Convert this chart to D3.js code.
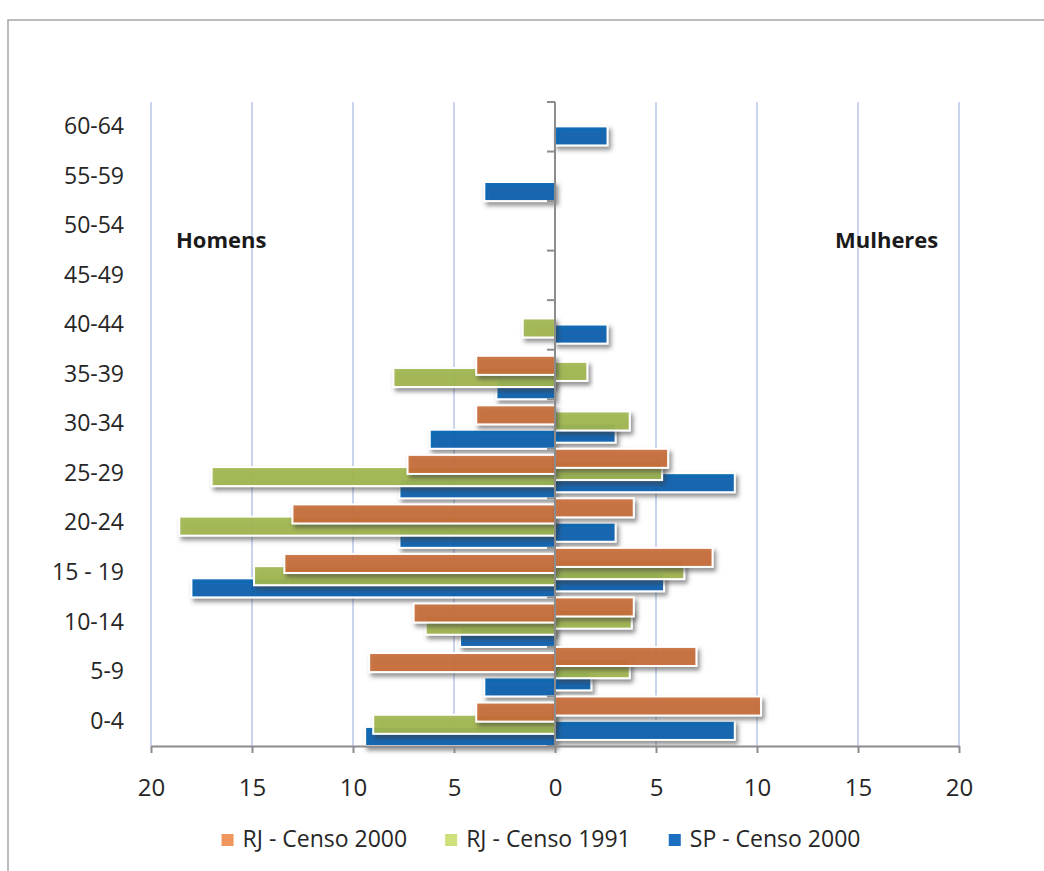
<!DOCTYPE html>
<html>
<head>
<meta charset="utf-8">
<script src="https://cdn.jsdelivr.net/npm/d3@7"></script>
<style>
  html, body { margin: 0; padding: 0; background: #fff; }
  svg { display: block; font-family: "Open Sans", "Noto Sans", sans-serif; }
</style>
</head>
<body>
<svg id="chart" width="1044" height="871"></svg>
<script>
// Age groups, bottom to top
const faixas = ["0-4", "5-9", "10-14", "15 - 19", "20-24", "25-29", "30-34", "35-39", "40-44", "45-49", "50-54", "55-59", "60-64"];

// Percentages per age group (men drawn to the left, women to the right)
const rj2000Homens   = [3.9, 9.2, 7.0, 13.4, 13.0, 7.3, 3.9, 3.9, 0, 0, 0, 0, 0];
const rj1991Homens   = [9.0, 0, 6.4, 14.9, 18.6, 17.0, 0, 8.0, 1.6, 0, 0, 0, 0];
const sp2000Homens   = [9.4, 3.5, 4.7, 18.0, 7.7, 7.7, 6.2, 2.9, 0, 0, 0, 3.5, 0];

const rj2000Mulheres = [10.2, 7.0, 3.9, 7.8, 3.9, 5.6, 0, 0, 0, 0, 0, 0, 0];
const rj1991Mulheres = [0, 3.7, 3.8, 6.4, 0, 5.3, 3.7, 1.6, 0, 0, 0, 0, 0];
const sp2000Mulheres = [8.9, 1.8, 0, 5.4, 3.0, 8.9, 3.0, 0, 2.6, 0, 0, 0, 2.6];

const seriesNomes = ["RJ - Censo 2000", "RJ - Censo 1991", "SP - Censo 2000"];
const xTicks = [-20, -15, -10, -5, 0, 5, 10, 15, 20];

const barColors    = ["#C96E3A", "#A2B851", "#0060B0"];
const legendColors = ["#F0955B", "#CDE07A", "#1B70C0"];

const svg = d3.select("#chart");

// Outer chart frame
svg.append("rect")
  .attr("x", 8).attr("y", 20)
  .attr("width", 1200).attr("height", 1000)
  .attr("fill", "#fff")
  .attr("stroke", "#a6a6a6").attr("stroke-width", 1.5);

const x = d3.scaleLinear().domain([-20, 20]).range([151, 959]);
const y = d3.scaleBand().domain(faixas.slice().reverse()).range([102, 746]).padding(0);

const barH = y.bandwidth() * 0.385;
// Six stacked slots per band: women/men interleaved for each census series
const slot = d3.scaleLinear().domain([0, 5]).range([0, y.bandwidth() - barH]);

// Drop shadow for the bars
const defs = svg.append("defs");
const f = defs.append("filter").attr("id", "sombra")
  .attr("x", "-10%").attr("y", "-30%").attr("width", "130%").attr("height", "180%");
f.append("feDropShadow")
  .attr("dx", 2.5).attr("dy", 3.5).attr("stdDeviation", 2.2)
  .attr("flood-color", "#3a3a3a").attr("flood-opacity", 0.6);

// Vertical gridlines
svg.append("g").selectAll("line")
  .data(xTicks.filter(d => d !== 0))
  .join("line")
  .attr("x1", d => x(d)).attr("x2", d => x(d))
  .attr("y1", y.range()[0]).attr("y2", y.range()[1])
  .attr("stroke", "#c9d5ee").attr("stroke-width", 2);

// Bar layers, drawn from the lowest slot up so the upper bars sit on top
const camadas = [
  { serie: 2, lado: -1, valores: sp2000Homens,   slot: 5 },
  { serie: 2, lado:  1, valores: sp2000Mulheres, slot: 4 },
  { serie: 1, lado: -1, valores: rj1991Homens,   slot: 3 },
  { serie: 1, lado:  1, valores: rj1991Mulheres, slot: 2 },
  { serie: 0, lado: -1, valores: rj2000Homens,   slot: 1 },
  { serie: 0, lado:  1, valores: rj2000Mulheres, slot: 0 }
];

const barras = svg.append("g");
camadas.forEach(c => {
  const dados = faixas.map((fx, i) => ({ faixa: fx, v: c.valores[i] })).filter(d => d.v > 0);
  barras.append("g")
    .selectAll("rect")
    .data(dados)
    .join("rect")
    .attr("x", d => c.lado < 0 ? x(-d.v) : x(0))
    .attr("width", d => Math.abs(x(d.v) - x(0)))
    .attr("y", d => y(d.faixa) + slot(c.slot))
    .attr("height", barH)
    .attr("fill", barColors[c.serie])
    .attr("fill-opacity", 0.9)
    .attr("stroke", "#fff").attr("stroke-width", 2)
    .attr("filter", "url(#sombra)");
});

// Bottom axis
const xAxis = svg.append("g")
  .attr("transform", `translate(0,${y.range()[1]})`)
  .call(d3.axisBottom(x).tickValues(xTicks).tickFormat(d => Math.abs(d)).tickSize(7).tickPadding(26).tickSizeOuter(0));
xAxis.select(".domain").attr("stroke", "#8c8c8c").attr("stroke-width", 2);
xAxis.selectAll(".tick line").attr("stroke", "#8c8c8c").attr("stroke-width", 2);
xAxis.selectAll(".tick text")
  .attr("font-size", 24).attr("fill", "#262626")
  .attr("font-family", "'Open Sans', sans-serif");

// Age group labels
const yAxis = svg.append("g")
  .attr("transform", `translate(${x(-20)},0)`)
  .call(d3.axisLeft(y).tickSize(0).tickPadding(27));
yAxis.select(".domain").remove();
yAxis.selectAll(".tick text")
  .attr("font-size", 23).attr("fill", "#262626")
  .attr("font-family", "'Open Sans', sans-serif");

// Central axis with ticks on the band boundaries
const zero = svg.append("g");
const limites = y.domain().map(d => y(d)).concat([y.range()[1]]);
zero.selectAll("line.tk")
  .data(limites)
  .join("line")
  .attr("class", "tk")
  .attr("x1", x(0) - 8).attr("x2", x(0))
  .attr("y1", d => d).attr("y2", d => d)
  .attr("stroke", "#8c8c8c").attr("stroke-width", 2);
zero.append("line")
  .attr("x1", x(0)).attr("x2", x(0))
  .attr("y1", y.range()[0]).attr("y2", y.range()[1])
  .attr("stroke", "#8c8c8c").attr("stroke-width", 2);

// Side titles
svg.append("text")
  .attr("x", 176).attr("y", 248)
  .attr("font-size", 22).attr("font-weight", "bold").attr("fill", "#1a1a1a")
  .text("Homens");
svg.append("text")
  .attr("x", 835).attr("y", 248)
  .attr("font-size", 22).attr("font-weight", "bold").attr("fill", "#1a1a1a")
  .text("Mulheres");

// Legend, laid out left to right and centred under the plot
const legenda = svg.append("g");
let cursor = 0;
seriesNomes.forEach((nome, i) => {
  const item = legenda.append("g").attr("transform", `translate(${cursor},0)`);
  item.append("rect")
    .attr("x", 0).attr("y", -13).attr("width", 12).attr("height", 12)
    .attr("fill", legendColors[i]);
  const t = item.append("text")
    .attr("x", 21).attr("y", 0)
    .attr("font-size", 23).attr("fill", "#262626")
    .text(nome);
  cursor += 21 + t.node().getComputedTextLength() + 38;
});
const larg = cursor - 38;
legenda.attr("transform", `translate(${541 - larg / 2},847)`);
</script>
</body>
</html>
